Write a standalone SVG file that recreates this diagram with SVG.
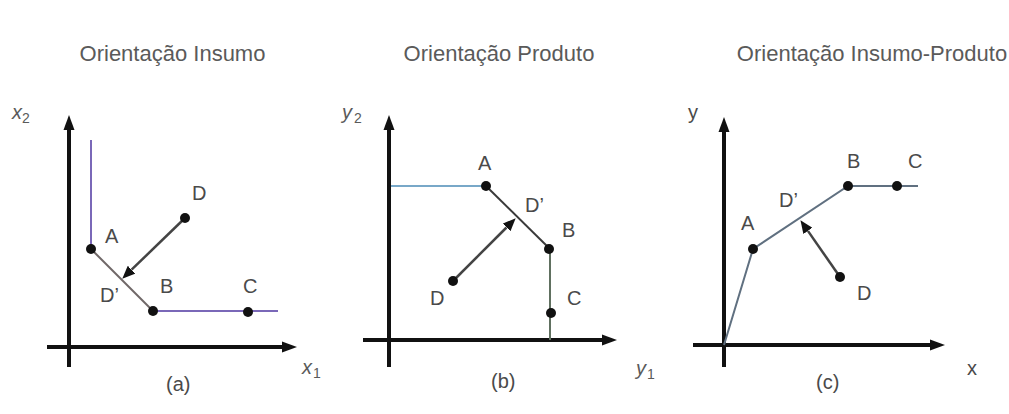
<svg xmlns="http://www.w3.org/2000/svg" width="1009" height="414" viewBox="0 0 1009 414">
<style>
.t{font-family:"Liberation Sans",Arial,sans-serif;font-size:22px;fill:#5a5a5a;text-anchor:middle}
.l{font-family:"Liberation Sans",Arial,sans-serif;font-size:20px;fill:#4a4a4a}
.i{font-family:"Liberation Sans",Arial,sans-serif;font-size:20px;fill:#5a5a5a;font-style:italic}
.s{font-family:"Liberation Sans",Arial,sans-serif;font-size:14px;fill:#5a5a5a}
.ax{stroke:#111;stroke-width:4;fill:none}
.fr{stroke-width:2;fill:none}
.ar{stroke:#444;stroke-width:2.5;fill:none}
.dot{fill:#111}
</style>
<defs>
<marker id="axh" markerUnits="userSpaceOnUse" markerWidth="15" markerHeight="12" refX="0" refY="6" orient="auto">
<path d="M0,0.5 L15,6 L0,11.5 z" fill="#111"/>
</marker>
<marker id="arh" markerUnits="userSpaceOnUse" markerWidth="13" markerHeight="11" refX="0" refY="5.5" orient="auto">
<path d="M0,0 L13,5.5 L0,11 z" fill="#111"/>
</marker>
</defs>
<rect width="1009" height="414" fill="#fff"/>

<g id="panel-a">
<text class="t" x="172.5" y="61">Orientação Insumo</text>
<g id="axes-a">
<line class="ax" x1="69" y1="367" x2="69" y2="130" marker-end="url(#axh)"/>
<line class="ax" x1="47" y1="347" x2="282" y2="347" marker-end="url(#axh)"/>
</g>
<text class="i" x="12" y="119">x</text><text class="s" x="22" y="123">2</text>
<text class="i" x="302" y="374">x</text><text class="s" x="313" y="378">1</text>
<text class="l" x="166" y="391">(a)</text>
</g>

<g id="panel-b">
<text class="t" x="499" y="61">Orientação Produto</text>
<g id="axes-b">
<line class="ax" x1="389" y1="367" x2="389" y2="130" marker-end="url(#axh)"/>
<line class="ax" x1="363" y1="340" x2="602" y2="340" marker-end="url(#axh)"/>
</g>
<text class="i" x="342" y="119">y</text><text class="s" x="354" y="123">2</text>
<text class="i" x="636" y="375">y</text><text class="s" x="647" y="379">1</text>
<text class="l" x="491" y="388">(b)</text>
</g>

<g id="panel-c">
<text class="t" x="872" y="61">Orientação Insumo-Produto</text>
<g id="axes-c">
<line class="ax" x1="724" y1="367" x2="724" y2="132" marker-end="url(#axh)"/>
<line class="ax" x1="693" y1="345" x2="930" y2="345" marker-end="url(#axh)"/>
</g>
<text class="l" x="688" y="119">y</text>
<text class="l" x="967" y="375">x</text>
<text class="l" x="816" y="389">(c)</text>
</g>

<g id="connectors">
<polyline class="fr" stroke="#7a68b8" points="91,140 91,249"/>
<line class="fr" stroke="#706868" x1="91" y1="249" x2="153" y2="311"/>
<polyline class="fr" stroke="#7a68b8" points="153,311 278,311"/>
<line class="ar" x1="185" y1="218" x2="131.6" y2="269.7" marker-end="url(#arh)"/>

<line class="fr" stroke="#78a8c8" x1="391" y1="186" x2="486" y2="186"/>
<line class="fr" stroke="#3a3a3a" x1="486" y1="186" x2="550" y2="249"/>
<line class="fr" stroke="#607060" x1="550" y1="249" x2="550" y2="340"/>
<line class="ar" x1="453" y1="281" x2="506.5" y2="227.5" marker-end="url(#arh)"/>

<polyline class="fr" stroke="#607080" points="724,345 753,249 848,186 918,186"/>
<line class="ar" x1="840" y1="277" x2="807.9" y2="230.9" marker-end="url(#arh)"/>
</g>

<g id="node-a-A"><circle class="dot" cx="91" cy="249" r="5"/><text class="l" x="105" y="243">A</text></g>
<g id="node-a-B"><circle class="dot" cx="153" cy="311" r="5"/><text class="l" x="160" y="293">B</text></g>
<g id="node-a-C"><circle class="dot" cx="248" cy="312" r="5"/><text class="l" x="243" y="293">C</text></g>
<g id="node-a-D"><circle class="dot" cx="185" cy="218" r="5"/><text class="l" x="192" y="200">D</text></g>
<g id="node-a-Dp"><text class="l" x="100" y="302">D’</text></g>

<g id="node-b-A"><circle class="dot" cx="486" cy="186" r="5"/><text class="l" x="478" y="170">A</text></g>
<g id="node-b-B"><circle class="dot" cx="549" cy="249" r="5"/><text class="l" x="562" y="237">B</text></g>
<g id="node-b-C"><circle class="dot" cx="551" cy="313" r="5"/><text class="l" x="567" y="305">C</text></g>
<g id="node-b-D"><circle class="dot" cx="453" cy="281" r="5"/><text class="l" x="430" y="305">D</text></g>
<g id="node-b-Dp"><text class="l" x="525" y="212">D’</text></g>

<g id="node-c-A"><circle class="dot" cx="753" cy="249" r="5"/><text class="l" x="741" y="230">A</text></g>
<g id="node-c-B"><circle class="dot" cx="848" cy="186" r="5"/><text class="l" x="847" y="168">B</text></g>
<g id="node-c-C"><circle class="dot" cx="897" cy="186" r="5"/><text class="l" x="908" y="168">C</text></g>
<g id="node-c-D"><circle class="dot" cx="840" cy="277" r="5"/><text class="l" x="857" y="300">D</text></g>
<g id="node-c-Dp"><text class="l" x="779" y="207">D’</text></g>
</svg>
